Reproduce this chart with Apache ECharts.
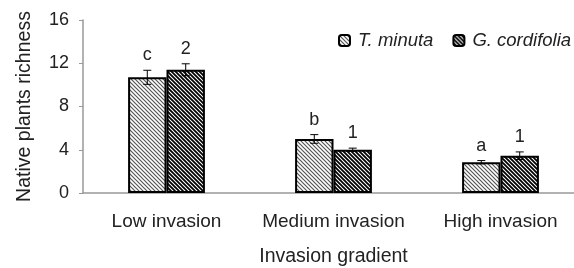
<!DOCTYPE html>
<html>
<head>
<meta charset="utf-8">
<script src="https://cdn.jsdelivr.net/npm/echarts@6/dist/echarts.min.js"></script>
<style>
  html, body { margin: 0; padding: 0; background: #fff; }
  #chart { width: 574px; height: 268px; }
</style>
</head>
<body>
<div id="chart"></div>
<script>
const categories = ['Low invasion', 'Medium invasion', 'High invasion']
const seriesNames = ['T. minuta', 'G. cordifolia']
const tMinuta = [10.7, 5.0, 2.85]
const gCordifolia = [11.4, 4.0, 3.45]
const tMinutaErr = [0.65, 0.4, 0.15]
const gCordifoliaErr = [0.55, 0.15, 0.35]
const tMinutaLetters = ['c', 'b', 'a']
const gCordifoliaLetters = ['2', '1', '1']
const yTicks = [0, 4, 8, 12, 16]

// hatch fill made on a small canvas
function hatch(size, lineWidth, color) {
  const c = document.createElement('canvas')
  c.width = size
  c.height = size
  const ctx = c.getContext('2d')
  ctx.fillStyle = '#fff'
  ctx.fillRect(0, 0, size, size)
  ctx.strokeStyle = color
  ctx.lineWidth = lineWidth
  ctx.beginPath()
  ctx.moveTo(-1, -1); ctx.lineTo(size + 1, size + 1)
  ctx.moveTo(-1, size - 1); ctx.lineTo(1, size + 1)
  ctx.moveTo(size - 1, -1); ctx.lineTo(size + 1, 1)
  ctx.stroke()
  return { image: c, repeat: 'repeat' }
}

const barPct = 0.23
const font = '"Liberation Sans", Arial, sans-serif'
const chart = echarts.init(document.getElementById('chart'))

function errorSeries(values, errs, letters, side) {
  return {
    type: 'custom',
    silent: true,
    z: 10,
    data: values.map((v, i) => [i, v, errs[i]]),
    renderItem(params, api) {
      const i = api.value(0)
      const v = api.value(1)
      const e = api.value(2)
      const band = api.size([1, 0])[0]
      const x = api.coord([i, v])[0] + side * band * barPct / 2
      const yHi = api.coord([i, v + e])[1]
      const yLo = api.coord([i, v - e])[1]
      const cap = 4
      const st = { stroke: '#000', lineWidth: 1 }
      return {
        type: 'group',
        children: [
          { type: 'line', shape: { x1: x, y1: yHi, x2: x, y2: yLo }, style: st },
          { type: 'line', shape: { x1: x - cap, y1: yHi, x2: x + cap, y2: yHi }, style: st },
          { type: 'line', shape: { x1: x - cap, y1: yLo, x2: x + cap, y2: yLo }, style: st },
          {
            type: 'text',
            style: {
              x: x, y: yHi - 6,
              text: letters[i],
              textAlign: 'center', textVerticalAlign: 'bottom',
              font: '18px ' + font,
              fill: '#222'
            }
          }
        ]
      }
    }
  }
}

chart.setOption({
  animation: false,
  textStyle: { fontFamily: font },
  legend: {
    left: 333,
    top: 26,
    width: 400,
    orient: 'horizontal',
    itemWidth: 11,
    itemHeight: 11,
    itemGap: 19,
    textStyle: { fontSize: 18.5, fontStyle: 'italic', color: '#222', padding: [0, 0, 0, 3] },
    data: seriesNames
  },
  grid: { left: 83, top: 20, width: 501, bottom: 75, outerBoundsMode: 'none', containLabel: false },
  xAxis: {
    type: 'category',
    data: categories,
    name: 'Invasion gradient',
    nameLocation: 'middle',
    nameGap: 54,
    nameTextStyle: { fontSize: 19.5, color: '#222' },
    axisLine: { lineStyle: { color: '#999', width: 1.5 } },
    axisTick: { length: 4, lineStyle: { color: '#999' } },
    axisLabel: { fontSize: 19, color: '#222', margin: 19, interval: 0, hideOverlap: false }
  },
  yAxis: {
    type: 'value',
    min: yTicks[0],
    max: yTicks[yTicks.length - 1],
    interval: 4,
    name: 'Native plants richness',
    nameLocation: 'middle',
    nameGap: 48,
    nameTextStyle: { fontSize: 19.5, color: '#222' },
    splitLine: { show: false },
    axisLine: { show: true, lineStyle: { color: '#999', width: 1.5 } },
    axisTick: { show: true, length: 4, lineStyle: { color: '#999' } },
    axisLabel: { fontSize: 18, color: '#222', margin: 14 }
  },
  series: [
    {
      name: seriesNames[0],
      type: 'bar',
      data: tMinuta,
      barWidth: barPct * 100 + '%',
      barGap: '0%',
      itemStyle: { color: hatch(4, 1.2, '#555'), borderColor: '#000', borderWidth: 2 }
    },
    {
      name: seriesNames[1],
      type: 'bar',
      data: gCordifolia,
      barWidth: barPct * 100 + '%',
      barGap: '0%',
      itemStyle: { color: hatch(4, 1.8, '#000'), borderColor: '#000', borderWidth: 2 }
    },
    errorSeries(tMinuta, tMinutaErr, tMinutaLetters, -1),
    errorSeries(gCordifolia, gCordifoliaErr, gCordifoliaLetters, 1)
  ]
})
</script>
</body>
</html>
